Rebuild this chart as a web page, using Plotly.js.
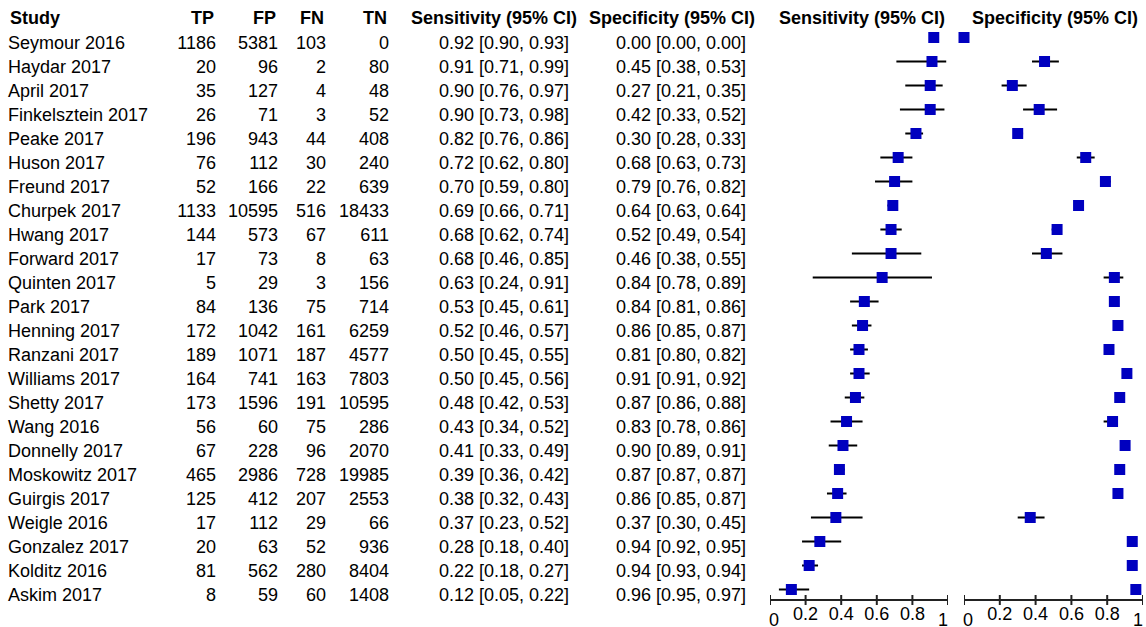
<!DOCTYPE html>
<html>
<head>
<meta charset="utf-8">
<script src="https://cdn.plot.ly/plotly-3.0.1.min.js"></script>
<style>html,body{margin:0;padding:0;background:#fff;}#chart{width:1146px;height:627px;}</style>
</head>
<body>
<div id="chart"></div>
<script>
var studies = ["Seymour 2016","Haydar 2017","April 2017","Finkelsztein 2017","Peake 2017","Huson 2017","Freund 2017","Churpek 2017","Hwang 2017","Forward 2017","Quinten 2017","Park 2017","Henning 2017","Ranzani 2017","Williams 2017","Shetty 2017","Wang 2016","Donnelly 2017","Moskowitz 2017","Guirgis 2017","Weigle 2016","Gonzalez 2017","Kolditz 2016","Askim 2017"];
var TP = [1186,20,35,26,196,76,52,1133,144,17,5,84,172,189,164,173,56,67,465,125,17,20,81,8];
var FP = [5381,96,127,71,943,112,166,10595,573,73,29,136,1042,1071,741,1596,60,228,2986,412,112,63,562,59];
var FN = [103,2,4,3,44,30,22,516,67,8,3,75,161,187,163,191,75,96,728,207,29,52,280,60];
var TN = [0,80,48,52,408,240,639,18433,611,63,156,714,6259,4577,7803,10595,286,2070,19985,2553,66,936,8404,1408];
var sens   = [0.92,0.91,0.90,0.90,0.82,0.72,0.70,0.69,0.68,0.68,0.63,0.53,0.52,0.50,0.50,0.48,0.43,0.41,0.39,0.38,0.37,0.28,0.22,0.12];
var sensLo = [0.90,0.71,0.76,0.73,0.76,0.62,0.59,0.66,0.62,0.46,0.24,0.45,0.46,0.45,0.45,0.42,0.34,0.33,0.36,0.32,0.23,0.18,0.18,0.05];
var sensHi = [0.93,0.99,0.97,0.98,0.86,0.80,0.80,0.71,0.74,0.85,0.91,0.61,0.57,0.55,0.56,0.53,0.52,0.49,0.42,0.43,0.52,0.40,0.27,0.22];
var spec   = [0.00,0.45,0.27,0.42,0.30,0.68,0.79,0.64,0.52,0.46,0.84,0.84,0.86,0.81,0.91,0.87,0.83,0.90,0.87,0.86,0.37,0.94,0.94,0.96];
var specLo = [0.00,0.38,0.21,0.33,0.28,0.63,0.76,0.63,0.49,0.38,0.78,0.81,0.85,0.80,0.91,0.86,0.78,0.89,0.87,0.85,0.30,0.92,0.93,0.95];
var specHi = [0.00,0.53,0.35,0.52,0.33,0.73,0.82,0.64,0.54,0.55,0.89,0.86,0.87,0.82,0.92,0.88,0.86,0.91,0.87,0.87,0.45,0.95,0.94,0.97];
var tickVals = [0,0.2,0.4,0.6,0.8,1];
var tickText = ["0","0.2","0.4","0.6","0.8","1"];
var headers = ["Study","TP","FP","FN","TN","Sensitivity (95% CI)","Specificity (95% CI)","Sensitivity (95% CI)","Specificity (95% CI)"];

// ---- layout configuration (pixels) ----
var W = 1146, H = 627;
var FONT = "Liberation Sans, Arial, Helvetica, sans-serif";
var FS = 18;
var rowTop = 37.5, rowStep = 24, axisY = 600, tickHalf = 5;
var textShift = 6.5; // text rows slightly lower than squares
var sensAx = [770, 948], specAx = [964, 1143];
var AXCOL = "#222";
var endLabelY = 620;           // pixel centre of the end tick labels
var endShift = [4, -5];        // end tick labels nudged inward, as in the original
var cols = [
  {x: 8,   pos: "middle right"},
  {x: 216, pos: "middle left"},
  {x: 278, pos: "middle left"},
  {x: 326, pos: "middle left"},
  {x: 389, pos: "middle left"},
  {x: 569, pos: "middle left"},
  {x: 746, pos: "middle left"}
];
var headerPos = [
  {x: 8, anchor: "left"}, {x: 216, anchor: "right"}, {x: 278, anchor: "right"},
  {x: 326, anchor: "right"}, {x: 389, anchor: "right"},
  {x: 494, anchor: "center"}, {x: 672, anchor: "center"},
  {x: 862, anchor: "center"}, {x: 1055, anchor: "center"}
];
var headerY = 17.5;

var rows = studies.map(function(_, i){ return i; });
function fmt(v){ return v.toFixed(2); }
function ci(e, lo, hi){ return e.map(function(v, i){ return fmt(v) + " [" + fmt(lo[i]) + ", " + fmt(hi[i]) + "]"; }); }
var colTexts = [studies, TP.map(String), FP.map(String), FN.map(String), TN.map(String), ci(sens, sensLo, sensHi), ci(spec, specLo, specHi)];

var traces = [];
colTexts.forEach(function(txt, c){
  traces.push({
    type: "scatter", mode: "text", xaxis: "x3", yaxis: "y2",
    x: rows.map(function(){ return cols[c].x; }), y: rows, text: txt,
    textposition: cols[c].pos, cliponaxis: false, hoverinfo: "skip",
    textfont: {family: FONT, size: FS, color: "#000"}
  });
});

var markerStyle = {symbol: "square", size: 11, color: "#0000BF", line: {width: 0}};
traces.push({
  type: "scatter", mode: "markers", xaxis: "x", yaxis: "y",
  x: sens, y: rows, cliponaxis: false, hoverinfo: "skip", marker: markerStyle,
  error_x: {type: "data", symmetric: false,
    array: sens.map(function(v, i){ return sensHi[i] - v; }),
    arrayminus: sens.map(function(v, i){ return v - sensLo[i]; }),
    color: "#000", thickness: 2, width: 0}
});
traces.push({
  type: "scatter", mode: "markers", xaxis: "x2", yaxis: "y",
  x: spec, y: rows, cliponaxis: false, hoverinfo: "skip", marker: markerStyle,
  error_x: {type: "data", symmetric: false,
    array: spec.map(function(v, i){ return specHi[i] - v; }),
    arrayminus: spec.map(function(v, i){ return v - specLo[i]; }),
    color: "#000", thickness: 2, width: 0}
});

var yRange = [(axisY - rowTop) / rowStep, -rowTop / rowStep];
var yDomain = [(H - axisY) / H, 1];
var yRange2 = [(axisY - rowTop - textShift) / rowStep, (-rowTop - textShift) / rowStep];
var tickFont = {family: FONT, size: FS, color: "#000"};
var last = tickVals.length - 1;
// middle labels drawn by the axis; the two end labels are added below, nudged inward
var midTicks = tickText.map(function(t, i){ return (i === 0 || i === last) ? "" : t; });
function forestAxis(px){
  return {domain: [px[0] / W, px[1] / W], range: [0, 1], anchor: "y",
    showline: false, ticks: "",
    tickmode: "array", tickvals: tickVals, ticktext: midTicks, tickfont: tickFont,
    ticklabelstandoff: 1, ticklabeloverflow: "allow",
    showgrid: false, zeroline: false, fixedrange: true};
}

// axis line and crossing tick marks, placed on the axes' own scales
var shapes = [];
var annotations = [];
["x", "x2"].forEach(function(xr){
  shapes.push({type: "line", layer: "above", xref: xr, yref: "paper",
    x0: tickVals[0], x1: tickVals[last],
    y0: (H - axisY) / H, y1: (H - axisY) / H,
    line: {color: AXCOL, width: 2}});
  tickVals.forEach(function(t){
    shapes.push({type: "line", layer: "above", xref: xr, yref: "paper",
      x0: t, x1: t, y0: (H - axisY - tickHalf) / H, y1: (H - axisY + tickHalf) / H,
      line: {color: AXCOL, width: 2}});
  });
  [0, last].forEach(function(k, j){
    annotations.push({xref: xr, yref: "paper", x: tickVals[k], y: 1 - endLabelY / H,
      xanchor: "center", yanchor: "middle", xshift: endShift[j], showarrow: false,
      text: tickText[k], font: tickFont});
  });
});

headers.forEach(function(h, i){
  annotations.push({xref: "paper", yref: "paper", x: headerPos[i].x / W, y: 1 - headerY / H,
    xanchor: headerPos[i].anchor, yanchor: "middle", showarrow: false,
    text: "<b>" + h + "</b>", font: {family: FONT, size: FS, color: "#000"}});
});

var layout = {
  width: W, height: H, margin: {l: 0, r: 0, t: 0, b: 0, pad: 0},
  paper_bgcolor: "#fff", plot_bgcolor: "rgba(0,0,0,0)", showlegend: false,
  xaxis: forestAxis(sensAx),
  xaxis2: forestAxis(specAx),
  xaxis3: {domain: [0, 1], range: [0, W], anchor: "y2", visible: false, fixedrange: true},
  yaxis: {domain: yDomain, range: yRange, visible: false, fixedrange: true},
  yaxis2: {domain: yDomain, range: yRange2, visible: false, fixedrange: true, overlaying: "y"},
  shapes: shapes,
  annotations: annotations
};

Plotly.newPlot("chart", traces, layout, {displayModeBar: false, staticPlot: true});
</script>
</body>
</html>
